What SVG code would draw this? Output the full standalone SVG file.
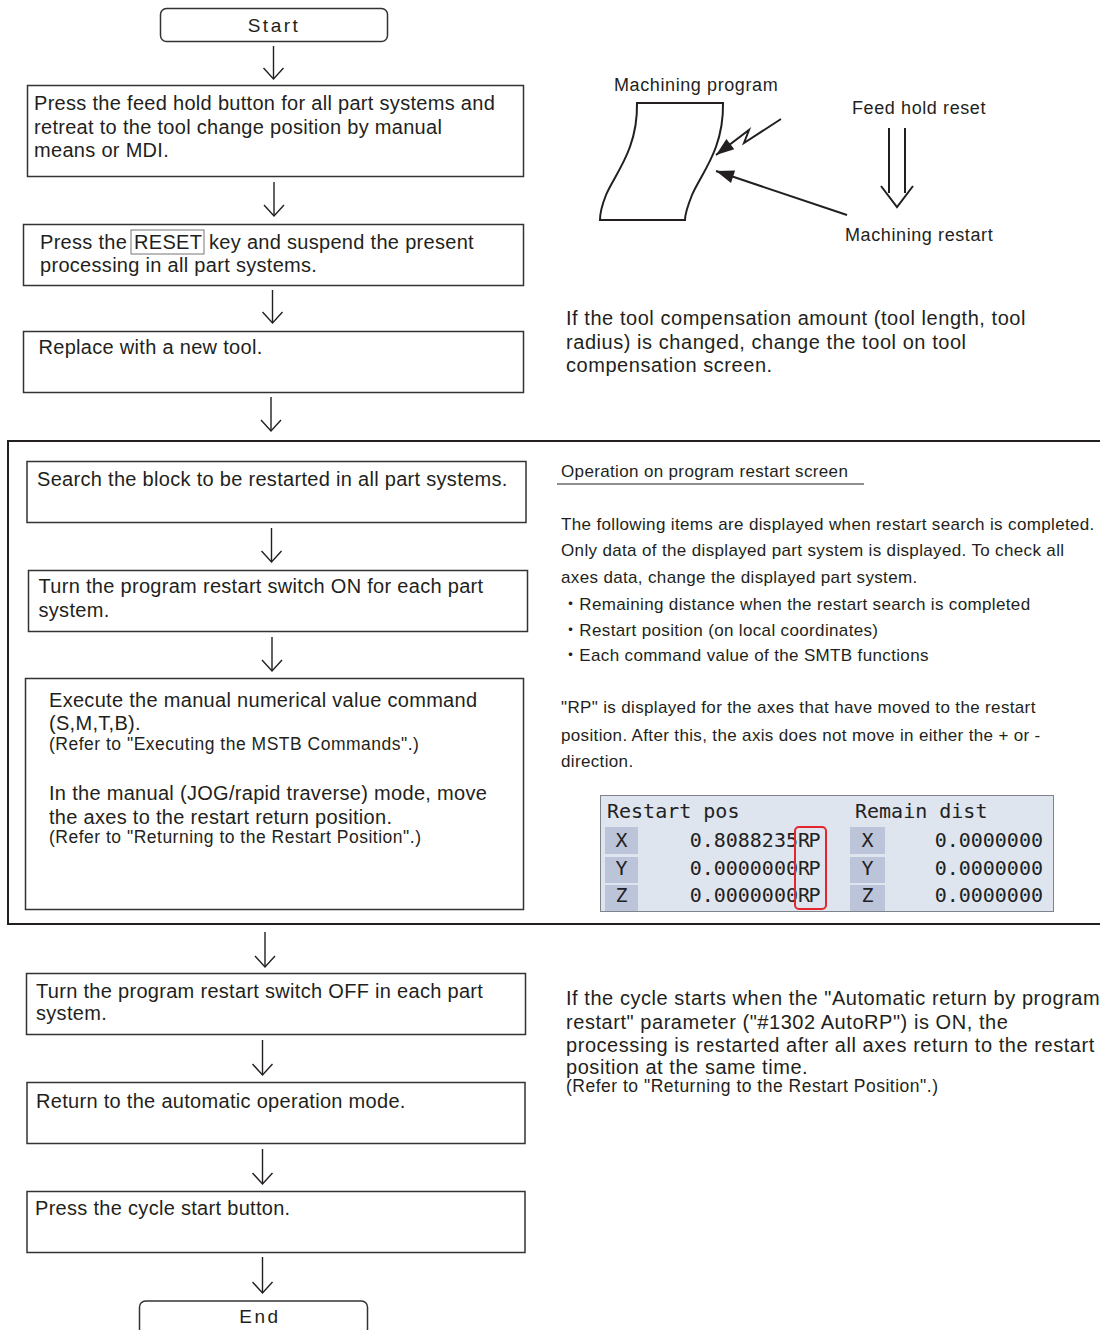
<svg xmlns="http://www.w3.org/2000/svg" width="1100" height="1330" viewBox="0 0 1100 1330">
  <style>
    .box { fill: #ffffff; stroke: #333333; stroke-width: 1.5; }
    .term { fill: #ffffff; stroke: #333333; stroke-width: 1.5; }
    .t { font-family: "Liberation Sans", Arial, sans-serif; font-size: 20px; letter-spacing: 0.3px; fill: #231f20; }
    .s { font-family: "Liberation Sans", Arial, sans-serif; font-size: 17.5px; letter-spacing: 0.5px; fill: #231f20; }
    .p { font-family: "Liberation Sans", Arial, sans-serif; font-size: 20px; letter-spacing: 0.55px; fill: #231f20; }
    .q { font-family: "Liberation Sans", "Noto Sans CJK JP", sans-serif; font-size: 17px; letter-spacing: 0.35px; fill: #231f20; }
    .lbl { font-family: "Liberation Sans", Arial, sans-serif; font-size: 18px; letter-spacing: 0.6px; fill: #231f20; }
    .term-t { font-family: "Liberation Sans", Arial, sans-serif; font-size: 19px; letter-spacing: 2.5px; fill: #231f20; text-anchor: middle; }
    .conn { stroke: #231f20; stroke-width: 1.4; fill: none; }
    .sk { stroke: #231f20; stroke-width: 2; fill: none; }
    .mono { font-family: "DejaVu Sans Mono", "Liberation Mono", monospace; font-size: 20px; fill: #222222; }
    .cell { fill: #bcc4da; }
  </style>
  <defs>
    <marker id="vhead" markerUnits="userSpaceOnUse" viewBox="-13 -11 15 22" markerWidth="15" markerHeight="22" refX="0" refY="0" orient="auto">
      <path d="M-11,-10 L0,0 L-11,10" fill="none" stroke="#231f20" stroke-width="1.4"/>
    </marker>
    <marker id="fhead" markerUnits="userSpaceOnUse" viewBox="-19 -8 20 16" markerWidth="20" markerHeight="16" refX="0" refY="0" orient="auto">
      <path d="M0,0 L-18,-6.5 L-18,6.5 Z" fill="#231f20"/>
    </marker>
  </defs>

  <!-- outer frame -->
  <rect id="frame" x="8" y="441" width="1102" height="483" fill="none" stroke="#231f20" stroke-width="2"/>

  <g id="connectors">
    <line class="conn" x1="273.5" y1="46" x2="273.5" y2="79" marker-end="url(#vhead)"/>
    <line class="conn" x1="274" y1="182" x2="274" y2="216" marker-end="url(#vhead)"/>
    <line class="conn" x1="272.5" y1="290" x2="272.5" y2="323" marker-end="url(#vhead)"/>
    <line class="conn" x1="271" y1="397" x2="271" y2="431" marker-end="url(#vhead)"/>
    <line class="conn" x1="271.5" y1="528" x2="271.5" y2="562" marker-end="url(#vhead)"/>
    <line class="conn" x1="272" y1="637" x2="272" y2="671" marker-end="url(#vhead)"/>
    <line class="conn" x1="265" y1="932" x2="265" y2="967" marker-end="url(#vhead)"/>
    <line class="conn" x1="262.5" y1="1040" x2="262.5" y2="1075" marker-end="url(#vhead)"/>
    <line class="conn" x1="262.5" y1="1149" x2="262.5" y2="1184" marker-end="url(#vhead)"/>
    <line class="conn" x1="262.5" y1="1257" x2="262.5" y2="1293" marker-end="url(#vhead)"/>
  </g>

  <g id="start">
    <rect class="term" x="160.5" y="8.5" width="227" height="33" rx="6"/>
    <text class="term-t" x="274" y="32">Start</text>
  </g>

  <g id="step1">
    <rect class="box" x="27.5" y="85.5" width="496" height="91"/>
    <text class="t" x="34" y="110">Press the feed hold button for all part systems and</text>
    <text class="t" x="34" y="133.5">retreat to the tool change position by manual</text>
    <text class="t" x="34" y="157">means or MDI.</text>
  </g>

  <g id="step2">
    <rect class="box" x="23.5" y="224.5" width="500" height="61"/>
    <text class="t" x="40" y="249">Press the</text>
    <rect x="131" y="230" width="73" height="24" fill="none" stroke="#777777" stroke-width="1"/>
    <text class="t" x="134" y="249">RESET</text>
    <text class="t" x="209" y="249">key and suspend the present</text>
    <text class="t" x="40" y="272">processing in all part systems.</text>
  </g>

  <g id="step3">
    <rect class="box" x="23.5" y="331.5" width="500" height="61"/>
    <text class="t" x="38.5" y="354">Replace with a new tool.</text>
  </g>

  <g id="step4">
    <rect class="box" x="27" y="461.5" width="499" height="61"/>
    <text class="t" x="37" y="486">Search the block to be restarted in all part systems.</text>
  </g>

  <g id="step5">
    <rect class="box" x="28.5" y="570.5" width="499" height="61"/>
    <text class="t" x="38.5" y="593">Turn the program restart switch ON for each part</text>
    <text class="t" x="38.5" y="617">system.</text>
  </g>

  <g id="step6">
    <rect class="box" x="25.5" y="678.5" width="498" height="231"/>
    <text class="t" x="49" y="707">Execute the manual numerical value command</text>
    <text class="t" x="49" y="730">(S,M,T,B).</text>
    <text class="s" x="49" y="750">(Refer to "Executing the MSTB Commands".)</text>
    <text class="t" x="49" y="800">In the manual (JOG/rapid traverse) mode, move</text>
    <text class="t" x="49" y="824">the axes to the restart return position.</text>
    <text class="s" x="49" y="843">(Refer to "Returning to the Restart Position".)</text>
  </g>

  <g id="step7">
    <rect class="box" x="26.5" y="973.5" width="499" height="61"/>
    <text class="t" x="36" y="998">Turn the program restart switch OFF in each part</text>
    <text class="t" x="36" y="1020">system.</text>
  </g>

  <g id="step8">
    <rect class="box" x="27" y="1082.5" width="498" height="61"/>
    <text class="t" x="36" y="1108">Return to the automatic operation mode.</text>
  </g>

  <g id="step9">
    <rect class="box" x="27" y="1191.5" width="498" height="61"/>
    <text class="t" x="35" y="1215">Press the cycle start button.</text>
  </g>

  <g id="end">
    <rect class="term" x="139.5" y="1301" width="228" height="45" rx="6"/>
    <text class="term-t" x="260" y="1323">End</text>
  </g>

  <!-- sketch: machining program -->
  <g id="sketch">
    <path class="sk" d="M637,103 L723,103 C724,150 700,175 692,195 C686,210 685,215 685,220 L600,220 C600,215 600,210 606,195 C614,175 638,150 637,103 Z"/>
    <polyline class="sk" points="781,119 744,143 749,130 716,155" marker-end="url(#fhead)"/>
    <line class="sk" x1="847" y1="215" x2="716" y2="171" marker-end="url(#fhead)"/>
    <line class="sk" x1="889" y1="128" x2="889" y2="193" stroke-width="1.5"/>
    <line class="sk" x1="905" y1="128" x2="905" y2="193" stroke-width="1.5"/>
    <polyline class="sk" points="881,186 897,207 913,186" stroke-width="1.5"/>
    <text class="lbl" x="614" y="91">Machining program</text>
    <text class="lbl" x="852" y="114">Feed hold reset</text>
    <text class="lbl" x="845" y="241">Machining restart</text>
  </g>

  <g id="note-tool">
    <text class="p" x="566" y="325">If the tool compensation amount (tool length, tool</text>
    <text class="p" x="566" y="349">radius) is changed, change the tool on tool</text>
    <text class="p" x="566" y="372">compensation screen.</text>
  </g>

  <g id="note-screen">
    <text class="q" x="561" y="477">Operation on program restart screen</text>
    <line x1="557" y1="484" x2="864" y2="484" stroke="#231f20" stroke-width="1.2"/>
    <text class="q" x="561" y="530">The following items are displayed when restart search is completed.</text>
    <text class="q" x="561" y="556">Only data of the displayed part system is displayed. To check all</text>
    <text class="q" x="561" y="583">axes data, change the displayed part system.</text>
    <text class="q" x="562" y="610">・Remaining distance when the restart search is completed</text>
    <text class="q" x="562" y="636">・Restart position (on local coordinates)</text>
    <text class="q" x="562" y="661">・Each command value of the SMTB functions</text>
    <text class="q" x="561" y="713">"RP" is displayed for the axes that have moved to the restart</text>
    <text class="q" x="561" y="741">position. After this, the axis does not move in either the + or -</text>
    <text class="q" x="561" y="767">direction.</text>
  </g>

  <g id="screen">
    <rect x="600.5" y="795.5" width="453" height="116" fill="#dee5ef" stroke="#7f848c" stroke-width="1"/>
    <text class="mono" x="607" y="818">Restart pos</text>
    <text class="mono" x="855" y="818">Remain dist</text>
    <rect class="cell" x="605" y="827" width="33" height="27"/>
    <rect class="cell" x="605" y="857" width="33" height="26"/>
    <rect class="cell" x="605" y="885" width="33" height="26"/>
    <rect class="cell" x="850" y="827" width="35" height="27"/>
    <rect class="cell" x="850" y="857" width="35" height="26"/>
    <rect class="cell" x="850" y="885" width="35" height="26"/>
    <text class="mono" x="621.5" y="847" text-anchor="middle">X</text>
    <text class="mono" x="621.5" y="875" text-anchor="middle">Y</text>
    <text class="mono" x="621.5" y="902" text-anchor="middle">Z</text>
    <text class="mono" x="867.5" y="847" text-anchor="middle">X</text>
    <text class="mono" x="867.5" y="875" text-anchor="middle">Y</text>
    <text class="mono" x="867.5" y="902" text-anchor="middle">Z</text>
    <text class="mono" x="798" y="847" text-anchor="end">0.8088235</text>
    <text class="mono" x="798" y="875" text-anchor="end">0.0000000</text>
    <text class="mono" x="798" y="902" text-anchor="end">0.0000000</text>
    <text class="mono" x="798" y="847" font-size="19" letter-spacing="-1.5">RP</text>
    <text class="mono" x="798" y="875" font-size="19" letter-spacing="-1.5">RP</text>
    <text class="mono" x="798" y="902" font-size="19" letter-spacing="-1.5">RP</text>
    <text class="mono" x="1043" y="847" text-anchor="end">0.0000000</text>
    <text class="mono" x="1043" y="875" text-anchor="end">0.0000000</text>
    <text class="mono" x="1043" y="902" text-anchor="end">0.0000000</text>
    <rect x="795" y="827" width="31" height="82" rx="4" fill="none" stroke="#e2262b" stroke-width="2"/>
  </g>

  <g id="note-autorp">
    <text class="p" x="566" y="1005">If the cycle starts when the "Automatic return by program</text>
    <text class="p" x="566" y="1029">restart" parameter ("#1302 AutoRP") is ON, the</text>
    <text class="p" x="566" y="1052">processing is restarted after all axes return to the restart</text>
    <text class="p" x="566" y="1074">position at the same time.</text>
    <text class="s" x="566" y="1092">(Refer to "Returning to the Restart Position".)</text>
  </g>
</svg>
